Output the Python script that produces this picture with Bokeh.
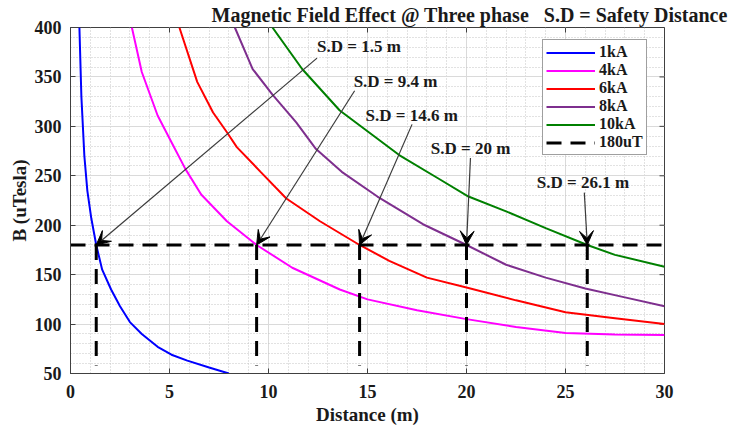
from bokeh.plotting import figure
from bokeh.models import Range1d, FixedTicker, Label, Arrow, VeeHead
from bokeh.embed import file_html
from bokeh.resources import INLINE

# ---------------- data ----------------
x_1kA = [0.45, 0.55, 0.7, 0.85, 1.05, 1.3, 1.6, 2.05, 2.5, 3.0, 3.6, 4.4, 5.1, 5.9, 7.0, 8.0]
b_1kA = [400, 330, 270, 235, 207, 180, 155, 135, 118, 102, 90, 77, 69, 63, 56, 50]

x_4kA = [3.1, 3.6, 4.4, 5.1, 5.8, 6.6, 7.9, 9.4, 11.2, 13.6, 15, 17.5, 20, 22.5, 25, 27.5, 30]
b_4kA = [400, 355, 311, 284, 257, 231, 204, 180, 157, 135, 125, 114, 105, 97, 91, 89.5, 89]

x_6kA = [5.5, 6.4, 7.2, 7.9, 8.4, 9.6, 10.9, 12.6, 14.6, 16.1, 18, 20, 22.5, 25, 27.5, 30]
b_6kA = [400, 345, 314, 294, 279, 254, 227, 204, 180, 164, 147, 137, 124, 112, 106, 100]

x_8kA = [8.3, 9.2, 10.2, 11.4, 12.4, 13.7, 15.5, 17.8, 20, 22, 24, 26, 28, 30]
b_8kA = [400, 358, 332, 304, 277, 254, 229, 201, 180, 160, 147, 136, 127, 118]

x_10kA = [10.2, 11.7, 13.6, 16.6, 18.6, 20.1, 22, 24, 26.1, 27.5, 30]
b_10kA = [400, 358, 316, 271, 247, 229, 214, 197, 180, 170, 158]

series_names = ["1kA", "4kA", "6kA", "8kA", "10kA"]
series_colors = ["#0000ff", "#ff00ff", "#ff0000", "#7e2f8e", "#008000"]

limit_B = 180          # 180 uT threshold
limit_x = [0, 30]
cross_x = [1.3, 9.4, 14.6, 20.0, 26.1]
drop_bottom = 58
sd_labels = ["S.D = 1.5 m", "S.D = 9.4 m", "S.D = 14.6 m", "S.D = 20 m", "S.D = 26.1 m"]

title_text = "Magnetic Field Effect @ Three phase"
note_text = "S.D = Safety Distance"

x_ticks = [0, 5, 10, 15, 20, 25, 30]
y_ticks = [50, 100, 150, 200, 250, 300, 350, 400]
X_MIN, X_MAX, Y_MIN, Y_MAX = 0, 30, 50, 400

# ---------------- figure ----------------
SERIF = "Liberation Serif"
p = figure(width=731, height=431, x_range=Range1d(X_MIN, X_MAX), y_range=Range1d(Y_MIN, Y_MAX),
           output_backend="svg", toolbar_location=None,
           min_border_left=70, min_border_right=67, min_border_top=26, min_border_bottom=58)

p.title.text = title_text + "\u00a0\u00a0 " + note_text
p.title.align = "left"
p.title.offset = 141
p.title.standoff = 3
p.title.text_font = SERIF
p.title.text_font_style = "bold"
p.title.text_font_size = "20px"
p.title.text_color = "#1a1a1a"

p.background_fill_color = "white"
p.border_fill_color = "white"
p.outline_line_color = "#404040"
p.outline_line_width = 1

xt = FixedTicker(ticks=x_ticks, minor_ticks=list(range(X_MIN, X_MAX + 1)))
yt = FixedTicker(ticks=y_ticks, minor_ticks=list(range(Y_MIN, Y_MAX + 1, 10)))
p.xaxis.ticker = xt
p.yaxis.ticker = yt

for ax in (p.xaxis[0], p.yaxis[0]):
    ax.major_tick_in = 5
    ax.major_tick_out = 0
    ax.minor_tick_line_color = None
    ax.axis_line_color = "#404040"
    ax.major_tick_line_color = "#404040"
    ax.major_label_text_font = SERIF
    ax.major_label_text_font_style = "bold"
    ax.major_label_text_font_size = "18px"
    ax.major_label_text_color = "#1a1a1a"
    ax.axis_label_text_font = SERIF
    ax.axis_label_text_font_style = "bold"
    ax.axis_label_text_font_size = "19px"
    ax.axis_label_text_color = "#1a1a1a"
p.xaxis.axis_label = "Distance (m)"
p.yaxis.axis_label = "B (uTesla)"
p.xaxis.major_label_standoff = 7
p.xaxis.axis_label_standoff = 3
p.yaxis.major_label_standoff = 5
p.yaxis.axis_label_standoff = 2

for g in (p.xgrid[0], p.ygrid[0]):
    g.grid_line_color = "#dadada"
    g.grid_line_width = 1
    g.minor_grid_line_color = "#c4c4c4"
    g.minor_grid_line_dash = "1 2"
    g.minor_grid_line_width = 1

# box ticks on the top and right edges (MATLAB "box on"), 5 px long
tick_len_y = 5 * (Y_MAX - Y_MIN) / 347
tick_len_x = 5 * (X_MAX - X_MIN) / 594
p.segment(x0=x_ticks, y0=[Y_MAX] * len(x_ticks), x1=x_ticks, y1=[Y_MAX - tick_len_y] * len(x_ticks),
          line_color="#404040", line_width=1)
p.segment(x0=[X_MAX] * len(y_ticks), y0=y_ticks, x1=[X_MAX - tick_len_x] * len(y_ticks), y1=y_ticks,
          line_color="#404040", line_width=1)

# ---------------- curves ----------------
xs = [x_1kA, x_4kA, x_6kA, x_8kA, x_10kA]
bs = [b_1kA, b_4kA, b_6kA, b_8kA, b_10kA]
for xv, bv, name, col in zip(xs, bs, series_names, series_colors):
    p.line(xv, bv, line_color=col, line_width=2, legend_label=name)

p.line(limit_x, [limit_B, limit_B], line_color="black", line_width=3, line_dash="15 9",
       legend_label="180uT")
p.segment(x0=cross_x, y0=[limit_B] * len(cross_x), x1=cross_x, y1=[drop_bottom] * len(cross_x),
          line_color="black", line_width=3, line_dash="15 9")

# ---------------- annotations ----------------
label_pos = [(12.45, 381), (14.3, 345.5), (14.9, 311), (18.2, 278), (23.55, 243)]
arrow_start = [(12.45, 369), (14.35, 336), (17.25, 302), (20.2, 268), (25.95, 233)]
for txt, (lx, ly), (ax0, ay0), cx in zip(sd_labels, label_pos, arrow_start, cross_x):
    p.add_layout(Arrow(end=VeeHead(size=14, fill_color="black", line_color="black"),
                       x_start=ax0, y_start=ay0, x_end=cx, y_end=limit_B,
                       line_color="#3a3a3a", line_width=1.2))
    p.add_layout(Label(x=lx, y=ly, text=txt, text_font=SERIF, text_font_style="bold",
                       text_font_size="17px", text_baseline="middle", text_align="left",
                       text_color="#1a1a1a"))

# ---------------- legend ----------------
lg = p.legend[0]
lg.location = (472, 218)
lg.label_text_font = SERIF
lg.label_text_font_style = "bold"
lg.label_text_font_size = "16px"
lg.label_text_color = "#1a1a1a"
lg.glyph_width = 49
lg.glyph_height = 17
lg.label_height = 17
lg.label_standoff = 4
lg.spacing = 0
lg.padding = 3
lg.margin = 0
lg.border_line_color = "#404040"
lg.border_line_width = 1
lg.background_fill_alpha = 1

open("out.html", "w").write(file_html(p, INLINE))
